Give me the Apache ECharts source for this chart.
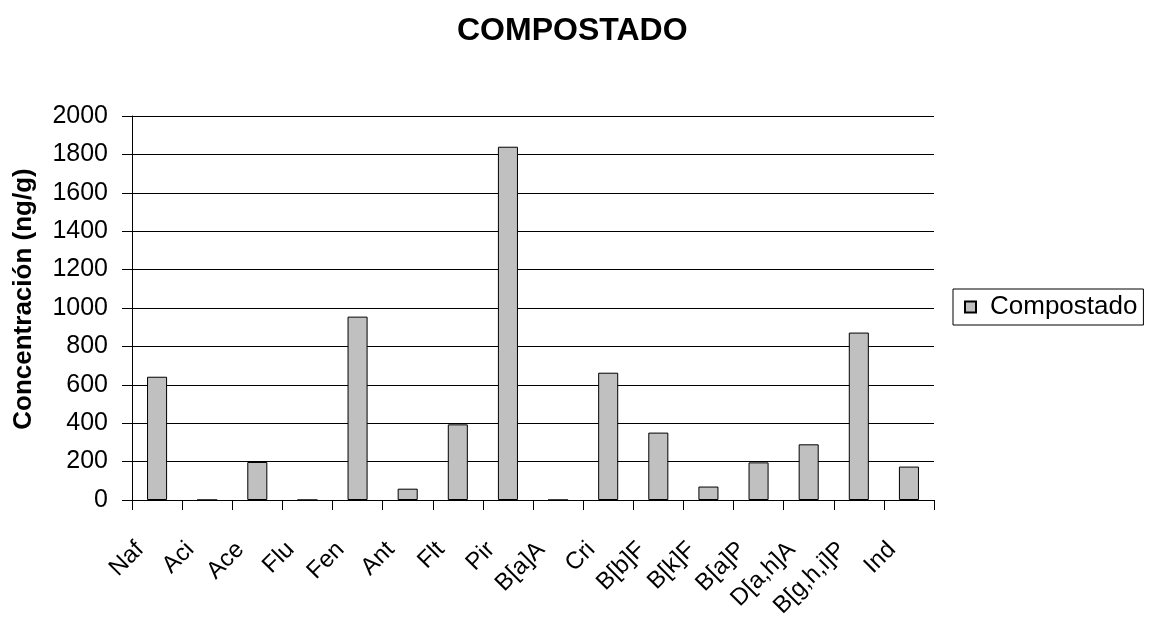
<!DOCTYPE html>
<html>
<head>
<meta charset="utf-8">
<script src="https://cdn.jsdelivr.net/npm/echarts@6/dist/echarts.min.js"></script>
<style>
html,body{margin:0;padding:0;background:#fff;}
#chart{width:1149px;height:617px;}
</style>
</head>
<body>
<div id="chart"></div>
<script>
const categories = ['Naf','Aci','Ace','Flu','Fen','Ant','Flt','Pir','B[a]A','Cri','B[b]F','B[k]F','B[a]P','D[a,h]A','B[g,h,i]P','Ind'];
const compostado = [642, 0, 198, 0, 955, 59, 394, 1840, 0, 663, 351, 70, 196, 290, 872, 174];
const yTicks = [0, 200, 400, 600, 800, 1000, 1200, 1400, 1600, 1800, 2000];

const FONT = '"Liberation Sans", Arial, sans-serif';
const chart = echarts.init(document.getElementById('chart'), null, {renderer: 'canvas'});
chart.setOption({
  animation: false,
  backgroundColor: '#ffffff',
  title: {
    text: 'COMPOSTADO',
    left: 452,
    top: 10,
    textStyle: {fontFamily: FONT, fontWeight: 'bold', fontSize: 32, color: '#000'}
  },
  legend: {
    left: 953,
    top: 289,
    orient: 'vertical',
    borderColor: '#000',
    borderWidth: 1,
    borderRadius: 0,
    padding: [5, 6, 5, 11],
    icon: 'rect',
    itemWidth: 11,
    itemHeight: 11,
    textStyle: {fontFamily: FONT, fontSize: 26, color: '#000', padding: [0, 0, 0, 9]},
    data: ['Compostado']
  },
  grid: {left: 132, right: 215, top: 116, bottom: 117, containLabel: false, outerBoundsMode: 'none'},
  xAxis: {
    type: 'category',
    data: categories,
    boundaryGap: true,
    axisLine: {show: true, lineStyle: {color: '#000', width: 1}},
    axisTick: {show: true, length: 10, inside: false, lineStyle: {color: '#000', width: 1}},
    axisLabel: {
      interval: 0,
      rotate: 45,
      margin: 29,
      fontFamily: FONT,
      fontSize: 24,
      color: '#000',
      padding: [0, 24, 0, 0]
    },
    splitLine: {show: false}
  },
  yAxis: {
    type: 'value',
    min: 0,
    max: yTicks[yTicks.length - 1],
    interval: yTicks[1] - yTicks[0],
    name: 'Concentración (ng/g)',
    nameLocation: 'middle',
    nameRotate: 90,
    nameGap: 95,
    nameTextStyle: {fontFamily: FONT, fontWeight: 'bold', fontSize: 26, color: '#000', padding: [0, 0, 0, 18]},
    axisLine: {show: true, lineStyle: {color: '#000', width: 1}},
    axisTick: {show: true, length: 10, inside: false, lineStyle: {color: '#000', width: 1}},
    axisLabel: {margin: 24, fontFamily: FONT, fontSize: 25, color: '#000', formatter: function (v) { return String(v); }},
    splitLine: {show: true, lineStyle: {color: '#000', width: 1}}
  },
  series: [{
    name: 'Compostado',
    type: 'bar',
    data: compostado,
    barWidth: '40%',
    itemStyle: {color: '#C0C0C0', borderColor: '#000', borderWidth: 1}
  }]
});
</script>
</body>
</html>
